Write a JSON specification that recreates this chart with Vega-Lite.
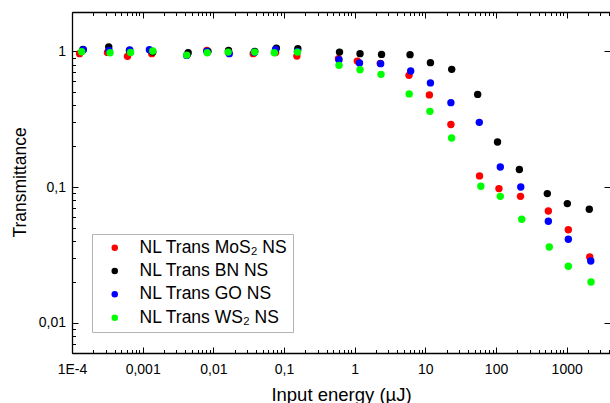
{
  "$schema": "https://vega.github.io/schema/vega-lite/v6.json",
  "width": 538,
  "height": 341,
  "autosize": {"type": "none"},
  "padding": {"left": 72, "top": 12, "right": 0, "bottom": 50},
  "background": "white",
  "config": {
    "font": "Liberation Sans",
    "view": {"stroke": null},
    "axis": {
      "grid": false,
      "domainColor": "black",
      "domainWidth": 1.3,
      "tickColor": "black",
      "tickWidth": 1,
      "labelColor": "black",
      "labelFont": "Liberation Sans",
      "labelFontSize": 14,
      "labelFlush": false,
      "labelOverlap": false,
      "titleFont": "Liberation Sans",
      "titleFontWeight": "normal",
      "titleColor": "black"
    },
    "legend": {
      "orient": "none",
      "legendX": 20,
      "legendY": 222,
      "padding": 5,
      "symbolOffset": 9,
      "symbolSize": 42,
      "symbolType": "circle",
      "symbolOpacity": 1,
      "symbolStrokeWidth": 0,
      "labelFont": "Liberation Sans",
      "labelFontSize": 17.5,
      "labelColor": "black",
      "labelOffset": 16,
      "labelLimit": 400,
      "rowPadding": 4.3,
      "strokeColor": "#b4b4b4",
      "fillColor": "white"
    }
  },
  "data": {"values": [
    {"s": "NL Trans MoS₂ NS", "e": 0.000128, "t": 0.962},
    {"s": "NL Trans MoS₂ NS", "e": 0.000318, "t": 0.983},
    {"s": "NL Trans MoS₂ NS", "e": 0.00061, "t": 0.919},
    {"s": "NL Trans MoS₂ NS", "e": 0.001345, "t": 0.962},
    {"s": "NL Trans MoS₂ NS", "e": 0.0043, "t": 0.95},
    {"s": "NL Trans MoS₂ NS", "e": 0.0081, "t": 1.017},
    {"s": "NL Trans MoS₂ NS", "e": 0.0164, "t": 0.98},
    {"s": "NL Trans MoS₂ NS", "e": 0.0367, "t": 0.962},
    {"s": "NL Trans MoS₂ NS", "e": 0.0759, "t": 0.98},
    {"s": "NL Trans MoS₂ NS", "e": 0.152, "t": 0.923},
    {"s": "NL Trans MoS₂ NS", "e": 0.59, "t": 0.884},
    {"s": "NL Trans MoS₂ NS", "e": 1.09, "t": 0.848},
    {"s": "NL Trans MoS₂ NS", "e": 2.3, "t": 0.816},
    {"s": "NL Trans MoS₂ NS", "e": 5.87, "t": 0.666},
    {"s": "NL Trans MoS₂ NS", "e": 11.4, "t": 0.478},
    {"s": "NL Trans MoS₂ NS", "e": 23.0, "t": 0.289},
    {"s": "NL Trans MoS₂ NS", "e": 58.4, "t": 0.121},
    {"s": "NL Trans MoS₂ NS", "e": 110, "t": 0.0975},
    {"s": "NL Trans MoS₂ NS", "e": 222, "t": 0.0855},
    {"s": "NL Trans MoS₂ NS", "e": 550, "t": 0.0667},
    {"s": "NL Trans MoS₂ NS", "e": 1055, "t": 0.0486},
    {"s": "NL Trans MoS₂ NS", "e": 2120, "t": 0.0306},
    {"s": "NL Trans BN NS", "e": 0.000143, "t": 1.034},
    {"s": "NL Trans BN NS", "e": 0.000331, "t": 1.076},
    {"s": "NL Trans BN NS", "e": 0.00065, "t": 1.017},
    {"s": "NL Trans BN NS", "e": 0.00139, "t": 0.988},
    {"s": "NL Trans BN NS", "e": 0.0044, "t": 0.978},
    {"s": "NL Trans BN NS", "e": 0.0084, "t": 1.0},
    {"s": "NL Trans BN NS", "e": 0.0164, "t": 1.017},
    {"s": "NL Trans BN NS", "e": 0.0385, "t": 1.0},
    {"s": "NL Trans BN NS", "e": 0.078, "t": 1.057},
    {"s": "NL Trans BN NS", "e": 0.157, "t": 1.047},
    {"s": "NL Trans BN NS", "e": 0.61, "t": 0.988},
    {"s": "NL Trans BN NS", "e": 1.19, "t": 0.962},
    {"s": "NL Trans BN NS", "e": 2.4, "t": 0.95},
    {"s": "NL Trans BN NS", "e": 6.07, "t": 0.946},
    {"s": "NL Trans BN NS", "e": 11.8, "t": 0.826},
    {"s": "NL Trans BN NS", "e": 23.6, "t": 0.737},
    {"s": "NL Trans BN NS", "e": 55, "t": 0.482},
    {"s": "NL Trans BN NS", "e": 105, "t": 0.215},
    {"s": "NL Trans BN NS", "e": 214, "t": 0.135},
    {"s": "NL Trans BN NS", "e": 532, "t": 0.0896},
    {"s": "NL Trans BN NS", "e": 1021, "t": 0.0756},
    {"s": "NL Trans BN NS", "e": 2089, "t": 0.0687},
    {"s": "NL Trans GO NS", "e": 0.0001445, "t": 1.029},
    {"s": "NL Trans GO NS", "e": 0.000334, "t": 1.017},
    {"s": "NL Trans GO NS", "e": 0.000656, "t": 1.026},
    {"s": "NL Trans GO NS", "e": 0.001245, "t": 1.029},
    {"s": "NL Trans GO NS", "e": 0.0042, "t": 0.934},
    {"s": "NL Trans GO NS", "e": 0.0081, "t": 1.0},
    {"s": "NL Trans GO NS", "e": 0.0168, "t": 0.962},
    {"s": "NL Trans GO NS", "e": 0.038, "t": 0.983},
    {"s": "NL Trans GO NS", "e": 0.0759, "t": 1.034},
    {"s": "NL Trans GO NS", "e": 0.155, "t": 1.0},
    {"s": "NL Trans GO NS", "e": 0.6, "t": 0.869},
    {"s": "NL Trans GO NS", "e": 1.17, "t": 0.82},
    {"s": "NL Trans GO NS", "e": 2.33, "t": 0.812},
    {"s": "NL Trans GO NS", "e": 6.2, "t": 0.716},
    {"s": "NL Trans GO NS", "e": 11.8, "t": 0.586},
    {"s": "NL Trans GO NS", "e": 23.0, "t": 0.419},
    {"s": "NL Trans GO NS", "e": 58, "t": 0.3},
    {"s": "NL Trans GO NS", "e": 115, "t": 0.1406},
    {"s": "NL Trans GO NS", "e": 224, "t": 0.1002},
    {"s": "NL Trans GO NS", "e": 550, "t": 0.056},
    {"s": "NL Trans GO NS", "e": 1055, "t": 0.0413},
    {"s": "NL Trans GO NS", "e": 2190, "t": 0.0286},
    {"s": "NL Trans WS₂ NS", "e": 0.000137, "t": 0.995},
    {"s": "NL Trans WS₂ NS", "e": 0.000345, "t": 0.978},
    {"s": "NL Trans WS₂ NS", "e": 0.000675, "t": 0.983},
    {"s": "NL Trans WS₂ NS", "e": 0.00139, "t": 1.005},
    {"s": "NL Trans WS₂ NS", "e": 0.0042, "t": 0.939},
    {"s": "NL Trans WS₂ NS", "e": 0.0082, "t": 0.978},
    {"s": "NL Trans WS₂ NS", "e": 0.0162, "t": 0.988},
    {"s": "NL Trans WS₂ NS", "e": 0.0385, "t": 0.988},
    {"s": "NL Trans WS₂ NS", "e": 0.0729, "t": 0.978},
    {"s": "NL Trans WS₂ NS", "e": 0.155, "t": 0.988},
    {"s": "NL Trans WS₂ NS", "e": 0.6, "t": 0.789},
    {"s": "NL Trans WS₂ NS", "e": 1.19, "t": 0.733},
    {"s": "NL Trans WS₂ NS", "e": 2.36, "t": 0.677},
    {"s": "NL Trans WS₂ NS", "e": 5.9, "t": 0.486},
    {"s": "NL Trans WS₂ NS", "e": 11.6, "t": 0.3615},
    {"s": "NL Trans WS₂ NS", "e": 23.5, "t": 0.23},
    {"s": "NL Trans WS₂ NS", "e": 61, "t": 0.1014},
    {"s": "NL Trans WS₂ NS", "e": 115, "t": 0.0855},
    {"s": "NL Trans WS₂ NS", "e": 231, "t": 0.058},
    {"s": "NL Trans WS₂ NS", "e": 567, "t": 0.0362},
    {"s": "NL Trans WS₂ NS", "e": 1055, "t": 0.0261},
    {"s": "NL Trans WS₂ NS", "e": 2210, "t": 0.02}
  ]},
  "layer": [
    {
      "mark": {"type": "point", "opacity": 0},
      "encoding": {
        "x": {"field": "e", "type": "quantitative",
          "scale": {"type": "log", "domain": [0.0001, 4100], "nice": false, "zero": false},
          "axis": {"orient": "bottom", "domain": false, "labels": false, "title": null, "tickSize": -3.5,
            "values": [0.0002,0.0003,0.0004,0.0005,0.0006,0.0007,0.0008,0.0009,0.002,0.003,0.004,0.005,0.006,0.007,0.008,0.009,0.02,0.03,0.04,0.05,0.06,0.07,0.08,0.09,0.2,0.3,0.4,0.5,0.6,0.7,0.8,0.9,2,3,4,5,6,7,8,9,20,30,40,50,60,70,80,90,200,300,400,500,600,700,800,900,2000,3000,4000]}},
        "y": {"field": "t", "type": "quantitative",
          "scale": {"type": "log", "domain": [0.006, 1.95], "nice": false, "zero": false},
          "axis": {"orient": "left", "domain": false, "labels": false, "title": null, "tickSize": -3.5,
            "values": [0.006,0.007,0.008,0.009,0.02,0.03,0.04,0.05,0.06,0.07,0.08,0.09,0.2,0.3,0.4,0.5,0.6,0.7,0.8,0.9]}}
      }
    },
    {
      "mark": {"type": "point", "opacity": 0},
      "encoding": {
        "x": {"field": "e", "type": "quantitative",
          "axis": {"orient": "top", "domain": false, "labels": false, "title": null, "tickSize": -3.5,
            "values": [0.0002,0.0003,0.0004,0.0005,0.0006,0.0007,0.0008,0.0009,0.002,0.003,0.004,0.005,0.006,0.007,0.008,0.009,0.02,0.03,0.04,0.05,0.06,0.07,0.08,0.09,0.2,0.3,0.4,0.5,0.6,0.7,0.8,0.9,2,3,4,5,6,7,8,9,20,30,40,50,60,70,80,90,200,300,400,500,600,700,800,900,2000,3000,4000]}},
        "y": {"field": "t", "type": "quantitative", "axis": null}
      }
    },
    {
      "mark": {"type": "point", "opacity": 0},
      "encoding": {
        "x": {"field": "e", "type": "quantitative",
          "axis": {"orient": "top", "labels": false, "title": null, "tickSize": -6,
            "values": [0.0001, 0.001, 0.01, 0.1, 1, 10, 100, 1000]}},
        "y": {"field": "t", "type": "quantitative",
          "axis": {"orient": "right", "domain": false, "labels": false, "title": null, "tickSize": -6,
            "values": [0.01, 0.1, 1]}}
      }
    },
    {
      "mark": {"type": "point", "filled": true, "opacity": 1, "size": 55},
      "encoding": {
        "x": {"field": "e", "type": "quantitative",
          "axis": {"orient": "bottom", "tickSize": -6, "labelPadding": 15,
            "values": [0.0001, 0.001, 0.01, 0.1, 1, 10, 100, 1000],
            "labelExpr": "datum.value < 0.0005 ? '1E-4' : replace(format(datum.value, '~r'), '.', ',')",
            "title": "Input energy (µJ)", "titleFontSize": 18.5, "titleY": 47, "titleBaseline": "alphabetic"}},
        "y": {"field": "t", "type": "quantitative",
          "axis": {"orient": "left", "tickSize": -6, "labelPadding": 12.5,
            "values": [0.01, 0.1, 1],
            "labelExpr": "replace(format(datum.value, '~r'), '.', ',')",
            "title": "Transmittance", "titleFontSize": 17.5, "titleAngle": 270, "titleX": -47, "titleY": 170, "titleBaseline": "alphabetic", "titleAlign": "center"}},
        "color": {"field": "s", "type": "nominal", "title": null,
          "scale": {"domain": ["NL Trans MoS₂ NS", "NL Trans BN NS", "NL Trans GO NS", "NL Trans WS₂ NS"],
                    "range": ["#ff0000", "#000000", "#0000ff", "#00ff00"]}}
      }
    }
  ],
  "resolve": {"axis": {"x": "independent", "y": "independent"}}
}
